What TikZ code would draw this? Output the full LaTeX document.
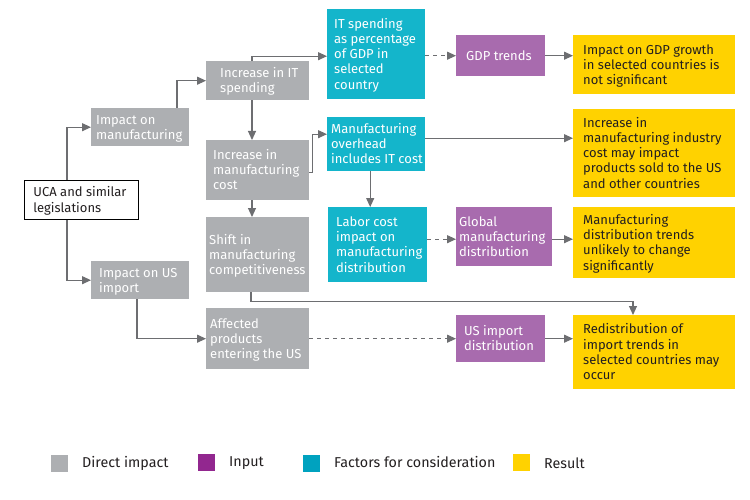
\documentclass[tikz,border=0pt]{standalone}
\usepackage{fontspec}
\setmainfont{Fira Sans}
\usetikzlibrary{arrows.meta}
\definecolor{gbox}{HTML}{ADAFB2}
\definecolor{tbox}{HTML}{14B5CB}
\definecolor{pbox}{HTML}{A86BAE}
\definecolor{ybox}{HTML}{FFD200}
\definecolor{lgray}{HTML}{ADAFB2}
\definecolor{lpurple}{HTML}{92278F}
\definecolor{lteal}{HTML}{00A2BF}
\definecolor{lineg}{HTML}{6D6E71}
\definecolor{dtext}{HTML}{231F20}
% style, name, x, y, width, height, left pad, text
\newcommand{\bx}[8]{%
  \node[#1, anchor=north west, minimum width=#5pt, minimum height=#6pt, inner sep=0pt] (#2) at (#3,#4) {};
  \node[#1, fill=none, draw=none, anchor=west, align=left, inner sep=0pt, xshift=#7pt, yshift=-1.5pt] (#2-t) at (#2.west) {\strut #8\strut};}
\begin{document}
\begin{tikzpicture}[x=1pt,y=-1pt,
  every node/.style={font=\fontsize{13}{15.2}\selectfont},
  gstyle/.style={fill=gbox,text=white},
  tstyle/.style={fill=tbox,text=white},
  pstyle/.style={fill=pbox,text=white},
  ystyle/.style={fill=ybox,text=dtext},
  wstyle/.style={fill=white,draw=black,line width=0.8pt,text=dtext},
  arr/.style={draw=lineg,line width=1.1pt,-{Triangle[length=9pt,width=8pt]}},
  darr/.style={arr,dash pattern=on 4pt off 4pt},
  legsq/.style={minimum width=17pt,minimum height=17pt,inner sep=0pt,anchor=north west},
  legtx/.style={anchor=west,text=dtext,inner sep=0pt,font=\fontsize{14.3}{16}\selectfont}
]
\useasboundingbox (0,0) rectangle (750,500);
\fill[white] (0,0) rectangle (750,500);

\bx{wstyle}{uca}{24}{180}{114}{39}{9}{UCA and similar\\legislations}
\bx{gstyle}{mfg}{91}{108}{98}{38}{5}{Impact on\\manufacturing}
\bx{gstyle}{usimp}{91}{261}{98}{38}{8}{Impact on US\\import}
\bx{gstyle}{itsp}{206}{61}{103}{39}{14}{Increase in IT\\spending}
\bx{gstyle}{cost}{206}{140}{103}{60}{7}{Increase in\\manufacturing\\cost}
\bx{gstyle}{shift}{206}{217}{103}{75}{3}{Shift in\\manufacturing\\competitiveness}
\bx{gstyle}{aff}{206}{308}{103}{61}{4}{Affected\\products\\entering the US}
\bx{tstyle}{itpct}{327}{9}{98}{90}{7}{IT spending\\as percentage\\of GDP in\\selected\\country}
\bx{tstyle}{ovh}{327}{117}{98}{54}{4}{Manufacturing\\overhead\\includes IT cost}
\bx{tstyle}{labor}{328}{207}{99}{75}{8}{Labor cost\\impact on\\manufacturing\\distribution}
\bx{pstyle}{gdp}{456}{35}{89}{41}{10}{GDP trends}
\bx{pstyle}{glob}{456}{207}{96}{59}{3}{Global\\manufacturing\\distribution}
\bx{pstyle}{usdist}{456}{315}{89}{47}{8}{US import\\distribution}
\bx{ystyle}{ra}{573}{35}{162}{59}{10}{Impact on GDP growth\\in selected countries is\\not significant}
\bx{ystyle}{rb}{573}{109}{162}{88}{10}{Increase in\\manufacturing industry\\cost may impact\\products sold to the US\\and other countries}
\bx{ystyle}{rc}{573}{207}{162}{71}{10}{Manufacturing\\distribution trends\\unlikely to change\\significantly}
\bx{ystyle}{rd}{573}{315}{162}{74}{10}{Redistribution of\\import trends in\\selected countries may\\occur}

% connectors
\draw[arr] ([xshift=43pt]uca.north west) |- (mfg.west);
\draw[arr] ([xshift=43pt]uca.south west) |- (usimp.west);
\draw[arr] ([xshift=86pt]mfg.north west) |- (itsp.west);
\draw[arr] ([xshift=46pt]itsp.north west) |- ([yshift=-2pt]itpct.west);
\draw[arr] ([xshift=46pt]itsp.south west) -- ([xshift=46pt]cost.north west);
\draw[arr] ([yshift=-2pt]cost.east) -- ++(3,0) |- ([yshift=10pt]ovh.west);
\draw[arr] ([xshift=46pt]cost.south west) -- ([xshift=46pt]shift.north west);
\draw[arr] ([xshift=45pt]shift.south west) -- ++(0,9) -| ([xshift=60pt]rd.north west);
\draw[arr] ([xshift=46pt]usimp.south west) |- (aff.west);
\draw[darr] (aff.east) -- (usdist.west);
\draw[arr] (usdist.east) -- (usdist.east -| rd.west);
\draw[darr] (gdp.west -| itpct.east) -- (gdp.west);
\draw[arr] (gdp.east) -- (gdp.east -| ra.west);
\draw[arr] ([yshift=6pt]ovh.east) -- ([yshift=6pt]ovh.east -| rb.west);
\draw[arr] ([xshift=-6pt]ovh.south) -- ([xshift=-6pt]ovh.south |- labor.north);
\coordinate (lg) at ([yshift=-2.5pt]glob.west);
\draw[darr] (labor.east |- lg) -- (lg);
\draw[arr] (glob.east |- lg) -- (rc.west |- lg);

% legend
\node[legsq,fill=lgray] (lq1) at (51,455) {};
\node[legtx] (lt1) at (82,463) {Direct impact};
\node[legsq,fill=lpurple] (lq2) at (198,454) {};
\node[legtx] (lt2) at (229,463) {Input};
\node[legsq,fill=lteal] (lq3) at (303,455) {};
\node[legtx] (lt3) at (334,462) {Factors for consideration};
\node[legsq,fill=ybox] (lq4) at (513,454) {};
\node[legtx] (lt4) at (544,463) {Result};
\end{tikzpicture}
\end{document}
